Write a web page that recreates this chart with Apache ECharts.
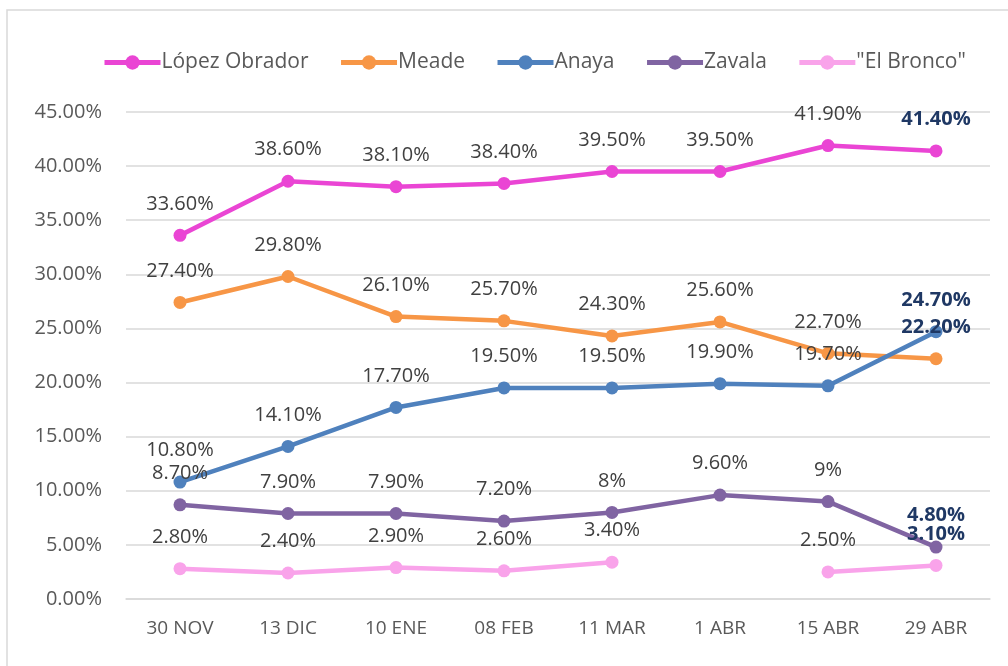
<!DOCTYPE html>
<html>
<head>
<meta charset="utf-8">
<script src="https://cdn.jsdelivr.net/npm/echarts@6/dist/echarts.min.js"></script>
<style>
  html, body { margin: 0; padding: 0; background: #fff; }
  #chart { width: 1008px; height: 666px; }
</style>
</head>
<body>
<div id="chart"></div>
<script>
// fechas de las encuestas
const fechas = ['30 NOV', '13 DIC', '10 ENE', '08 FEB', '11 MAR', '1 ABR', '15 ABR', '29 ABR']

// valores por candidato (%)
const lopezObrador = [33.6, 38.6, 38.1, 38.4, 39.5, 39.5, 41.9, 41.4]
const meade = [27.4, 29.8, 26.1, 25.7, 24.3, 25.6, 22.7, 22.2]
const anaya = [10.8, 14.1, 17.7, 19.5, 19.5, 19.9, 19.7, 24.7]
const zavala = [8.7, 7.9, 7.9, 7.2, 8, 9.6, 9, 4.8]
const elBronco = [2.8, 2.4, 2.9, 2.6, 3.4, null, 2.5, 3.1]

const nombres = ['López Obrador', 'Meade', 'Anaya', 'Zavala', '"El Bronco"']
const colores = ['#EA45D4', '#F79646', '#4F81BD', '#8064A2', '#F9A3EA']

const fuente = '"Open Sans", "Liberation Sans", sans-serif'

function etiqueta (v) {
  return Number.isInteger(v) ? v + '%' : v.toFixed(2) + '%'
}

function serie (nombre, valores, color) {
  return {
    name: nombre,
    type: 'line',
    symbol: 'circle',
    symbolSize: 13,
    color: color,
    lineStyle: { width: 4.5 },
    connectNulls: false,
    label: {
      show: true,
      position: 'top',
      distance: 15,
      fontFamily: fuente,
      fontSize: 20,
      color: '#404040',
      formatter: p => etiqueta(p.value)
    },
    data: valores.map((v, i) => {
      if (i === valores.length - 1) {
        // el último punto va en negritas azul oscuro
        return { value: v, label: { color: '#1F3864', fontWeight: 'bold' } }
      }
      return v
    })
  }
}

const myChart = echarts.init(document.getElementById('chart'))
const option = {
  animation: false,
  graphic: [{
    type: 'rect',
    shape: { x: 7, y: 10, width: 1010, height: 670 },
    style: { fill: 'none', stroke: '#d9d9d9', lineWidth: 1.5 },
    silent: true
  }],
  legend: {
    top: 47,
    left: 97,
    itemWidth: 56,
    itemHeight: 18,
    itemGap: 30,
    lineStyle: { width: 5 },
    textStyle: { fontFamily: fuente, fontSize: 21, color: '#595959', padding: [0, 0, 0, -4] },
    data: nombres
  },
  grid: {
    left: 126,
    right: 18,
    top: 112,
    bottom: 67
  },
  xAxis: {
    type: 'category',
    data: fechas,
    axisLine: { lineStyle: { color: '#d9d9d9', width: 1.5 } },
    axisTick: { show: false },
    axisLabel: { fontFamily: fuente, fontSize: 19, color: '#595959', margin: 20 }
  },
  yAxis: {
    type: 'value',
    min: 0,
    max: 45,
    interval: 5,
    axisLine: { show: false },
    axisTick: { show: false },
    axisLabel: {
      fontFamily: fuente,
      fontSize: 20,
      color: '#595959',
      margin: 24,
      formatter: v => v.toFixed(2) + '%'
    },
    splitLine: { lineStyle: { color: '#d9d9d9', width: 1.5 } }
  },
  series: [
    serie(nombres[0], lopezObrador, colores[0]),
    serie(nombres[1], meade, colores[1]),
    serie(nombres[2], anaya, colores[2]),
    serie(nombres[3], zavala, colores[3]),
    serie(nombres[4], elBronco, colores[4])
  ]
}
myChart.setOption(option)
</script>
</body>
</html>
